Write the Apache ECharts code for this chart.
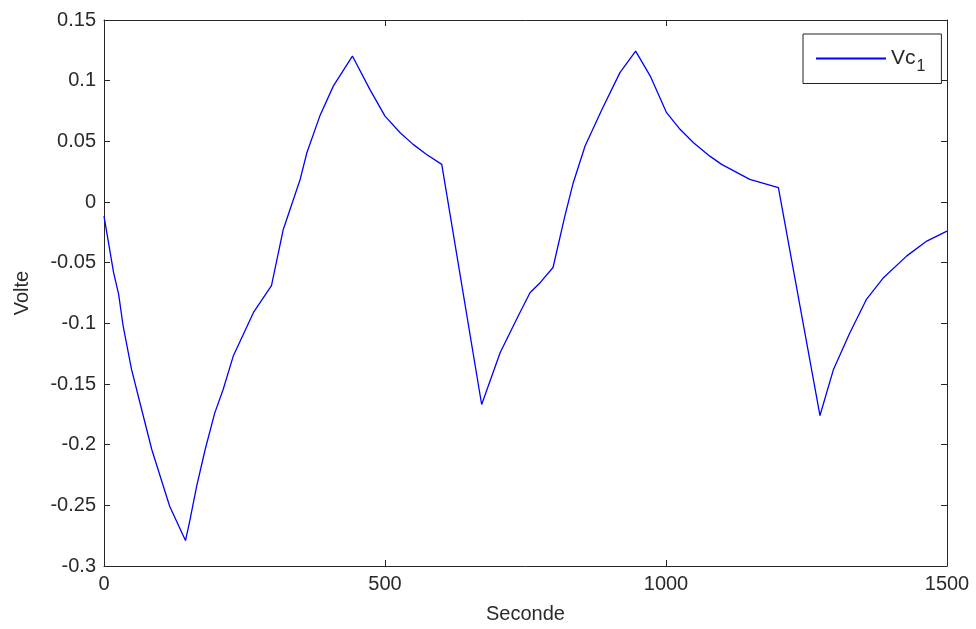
<!DOCTYPE html>
<html>
<head>
<meta charset="utf-8">
<script src="https://cdn.jsdelivr.net/npm/echarts@6/dist/echarts.min.js"></script>
<style>
  html, body { margin: 0; padding: 0; background: #fff; }
  #chart { width: 976px; height: 629px; }
</style>
</head>
<body>
<div id="chart"></div>
<script>
// Capacitor voltage Vc1 over time (s)
const timeSec = [0, 17, 26, 34, 49, 67, 85, 100, 117, 145, 153, 165, 180, 197, 212, 230, 266, 298, 319, 349,
  361, 384, 408, 442, 473, 500, 527, 550, 574, 601, 672, 705, 737, 758, 776, 799, 820, 835, 856, 886,
  918, 946, 972, 1001, 1025, 1049, 1078, 1099, 1149, 1200, 1274, 1298, 1327, 1357, 1387, 1428, 1464, 1500];
const vc1 = [-0.0116, -0.058, -0.076, -0.102, -0.138, -0.171, -0.204, -0.226, -0.251, -0.279, -0.262, -0.234, -0.204, -0.174, -0.1545, -0.127, -0.091, -0.069, -0.0226, 0.0186,
  0.0406, 0.0708, 0.0955, 0.1203, 0.0928, 0.0708, 0.0571, 0.0475, 0.0392, 0.031, -0.1669, -0.124, -0.094, -0.0748, -0.0665, -0.054, -0.0116, 0.0159, 0.0461, 0.0763,
  0.1066, 0.1244, 0.1038, 0.0736, 0.0599, 0.0489, 0.0378, 0.031, 0.0186, 0.0118, -0.176, -0.138, -0.108, -0.080, -0.0624, -0.0446, -0.0322, -0.024];

const xTicks = { min: 0, max: 1500, interval: 500 };
const yTicks = { min: -0.3, max: 0.15, interval: 0.05 };

const seriesData = timeSec.map((t, i) => [t, vc1[i]]);

const font = 'Liberation Sans, Arial, sans-serif';
const axisColor = '#262626';
const textColor = '#2a2a2a';

function boxAxis(base, show) {
  return Object.assign({
    type: 'value',
    axisLine: { show: true, onZero: false, lineStyle: { color: axisColor, width: 1 } },
    axisTick: { show: true, inside: true, length: 6, lineStyle: { color: axisColor } },
    splitLine: { show: false },
    axisLabel: {
      show: show, color: textColor, fontFamily: font, fontSize: 20, margin: 8,
      formatter: v => String(Math.round(v * 1000) / 1000)
    }
  }, base);
}

const chart = echarts.init(document.getElementById('chart'));
chart.setOption({
  backgroundColor: '#fff',
  animation: false,
  grid: { left: 104, right: 29, top: 20, bottom: 63 },
  xAxis: [
    boxAxis(Object.assign({ position: 'bottom', name: 'Seconde', nameLocation: 'middle', nameGap: 38,
      nameTextStyle: { color: textColor, fontFamily: font, fontSize: 20 } }, xTicks), true),
    boxAxis(Object.assign({ position: 'top' }, xTicks), false)
  ],
  yAxis: [
    boxAxis(Object.assign({ position: 'left', name: 'Volte', nameLocation: 'middle', nameGap: 72,
      nameTextStyle: { color: textColor, fontFamily: font, fontSize: 20 } }, yTicks), true),
    boxAxis(Object.assign({ position: 'right' }, yTicks), false)
  ],
  legend: {
    left: 803, top: 34,
    orient: 'vertical',
    backgroundColor: '#fff',
    borderColor: '#222', borderWidth: 1, borderRadius: 0,
    padding: [14, 16, 9, 13],
    icon: 'rect', itemWidth: 70, itemHeight: 2, itemGap: 0,
    formatter: () => '{a|Vc}{b|1}',
    textStyle: {
      color: textColor, fontFamily: font, fontSize: 21,
      rich: {
        a: { fontSize: 21, fontFamily: font, color: textColor },
        b: { fontSize: 16, fontFamily: font, color: textColor, padding: [16, 0, 0, 1] }
      }
    },
    data: ['Vc1']
  },
  series: [{
    name: 'Vc1',
    type: 'line',
    xAxisIndex: 0, yAxisIndex: 0,
    data: seriesData,
    symbol: 'none',
    lineStyle: { color: '#0000ff', width: 1.3 },
    itemStyle: { color: '#0000ff' }
  }]
});
</script>
</body>
</html>
